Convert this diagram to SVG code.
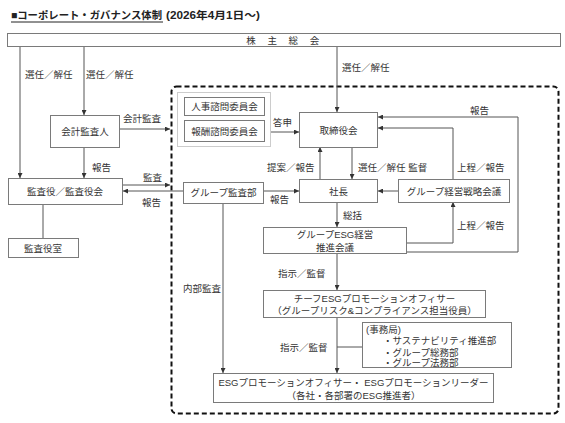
<svg xmlns="http://www.w3.org/2000/svg" width="565" height="423" viewBox="0 0 565 423">
<style>
text{font-family:"Liberation Sans","Noto Sans CJK JP",sans-serif;font-size:9.5px;fill:#333}
.c{text-anchor:middle}
.box{fill:#fff;stroke:#7a7a7a;stroke-width:1}
.ln{fill:none;stroke:#555;stroke-width:1}
.la{fill:none;stroke:#555;stroke-width:1;marker-end:url(#ah)}
.ttl{font-size:10.5px;font-weight:bold;fill:#222}
</style>
<defs>
<marker id="ah" viewBox="0 0 6 6" refX="6" refY="3" markerWidth="5" markerHeight="5" orient="auto" markerUnits="userSpaceOnUse"><path d="M0,0 L6,3 L0,6 z" fill="#333"/></marker>
</defs>
<rect width="565" height="423" fill="#fff"/>
<g id="title">
<text x="11" y="19" class="ttl" textLength="151" lengthAdjust="spacingAndGlyphs">■コーポレート・ガバナンス体制</text>
<text x="166" y="19" class="ttl" textLength="94" lengthAdjust="spacingAndGlyphs">(2026年4月1日～)</text>
<line x1="11" y1="22" x2="163" y2="22" stroke="#222" stroke-width="1"/>
</g>
<g id="boundary">
<rect x="171.5" y="86.5" width="387" height="327" rx="5" fill="none" stroke="#111" stroke-width="2" stroke-dasharray="5,3"/>
</g>
<g id="connectors">
<path class="la" d="M20,47 V178"/>
<path class="la" d="M84,47 V115"/>
<path class="la" d="M337,47 V112"/>
<path class="la" d="M120,129 H170"/>
<path class="la" d="M84,147 V178"/>
<path class="la" d="M123,185 H170"/>
<path class="la" d="M183,191 H123"/>
<path class="ln" d="M43,204 V238" stroke="#888"/>
<path class="la" d="M271,132 H299"/>
<path class="la" d="M352,147 V179"/>
<path class="la" d="M320,179 V147"/>
<path class="la" d="M263,191 H299"/>
<path class="la" d="M398,191 H378"/>
<path class="la" d="M453,179 V128 H378"/>
<path class="la" d="M406,243 H453 V202"/>
<path class="la" d="M406,252 H518 V117 H378"/>
<path class="la" d="M337,202 V227"/>
<path class="la" d="M337,253 V290"/>
<path class="la" d="M337,317 V373"/>
<path class="ln" d="M337,347 H362"/>
<path class="la" d="M223,203 V373"/>
</g>
<g id="labels">
<text x="25" y="78">選任／解任</text>
<text x="86" y="78">選任／解任</text>
<text x="342" y="71">選任／解任</text>
<text x="123" y="122">会計監査</text>
<text x="92" y="171">報告</text>
<text x="143" y="181">監査</text>
<text x="142" y="206">報告</text>
<text x="273" y="126">答申</text>
<text x="267" y="171">提案／報告</text>
<text x="358" y="171">選任／解任 監督</text>
<text x="457" y="171">上程／報告</text>
<text x="470" y="114">報告</text>
<text x="270" y="203">報告</text>
<text x="343" y="219">総括</text>
<text x="457" y="229">上程／報告</text>
<text x="278" y="277">指示／監督</text>
<text x="183" y="292">内部監査</text>
<text x="280" y="351">指示／監督</text>
</g>
<g id="shareholders">
<rect class="box" x="7.5" y="33.5" width="553" height="13"/>
<text x="285" y="43.5" class="c" style="letter-spacing:4.5px">株 主 総 会</text>
</g>
<g id="auditor">
<rect class="box" x="50.5" y="115.5" width="69" height="32"/>
<text x="85" y="135" class="c">会計監査人</text>
</g>
<g id="kansayaku">
<rect class="box" x="8.5" y="178.5" width="114" height="26"/>
<text x="65" y="195" class="c">監査役／監査役会</text>
</g>
<g id="kansayakushitsu">
<rect class="box" x="8.5" y="238.5" width="70" height="19"/>
<text x="43" y="251.5" class="c">監査役室</text>
</g>
<g id="committees">
<rect x="177.5" y="92.5" width="93" height="54" fill="#fff" stroke="#999" stroke-width="1" stroke-dasharray="1,1"/>
<rect class="box" x="184.5" y="97.5" width="80" height="18"/>
<text x="224.5" y="110" class="c">人事諮問委員会</text>
<rect class="box" x="184.5" y="120.5" width="80" height="21"/>
<text x="224.5" y="134.5" class="c">報酬諮問委員会</text>
</g>
<g id="board">
<rect class="box" x="299.5" y="112.5" width="78" height="35"/>
<text x="338.5" y="133.5" class="c">取締役会</text>
</g>
<g id="group-audit">
<rect class="box" x="183.5" y="182.5" width="80" height="21"/>
<text x="223.5" y="196" class="c">グループ監査部</text>
</g>
<g id="president">
<rect class="box" x="299.5" y="179.5" width="78" height="23"/>
<text x="338.5" y="194.5" class="c">社長</text>
</g>
<g id="strategy">
<rect class="box" x="398.5" y="179.5" width="111" height="23"/>
<text x="454" y="194.5" class="c">グループ経営戦略会議</text>
</g>
<g id="esg-council">
<rect class="box" x="263.5" y="227.5" width="143" height="26"/>
<text x="335" y="238" class="c">グループESG経営</text>
<text x="335" y="250.5" class="c">推進会議</text>
</g>
<g id="cesgo">
<rect class="box" x="263.5" y="290.5" width="222" height="27"/>
<text x="374.5" y="302" class="c">チーフESGプロモーションオフィサー</text>
<text x="374.5" y="314" class="c">（グループリスク&amp;コンプライアンス担当役員）</text>
</g>
<g id="secretariat">
<rect class="box" x="362.5" y="322.5" width="149" height="45"/>
<text x="366" y="333">(事務局)</text>
<text x="383" y="344">・サステナビリティ推進部</text>
<text x="383" y="355.5">・グループ総務部</text>
<text x="383" y="366">・グループ法務部</text>
</g>
<g id="esgo">
<rect class="box" x="213.5" y="373.5" width="280" height="29"/>
<text x="353.5" y="386" class="c">ESGプロモーションオフィサー・ ESGプロモーションリーダー</text>
<text x="353.5" y="398.5" class="c">（各社・各部署のESG推進者）</text>
</g>
</svg>
